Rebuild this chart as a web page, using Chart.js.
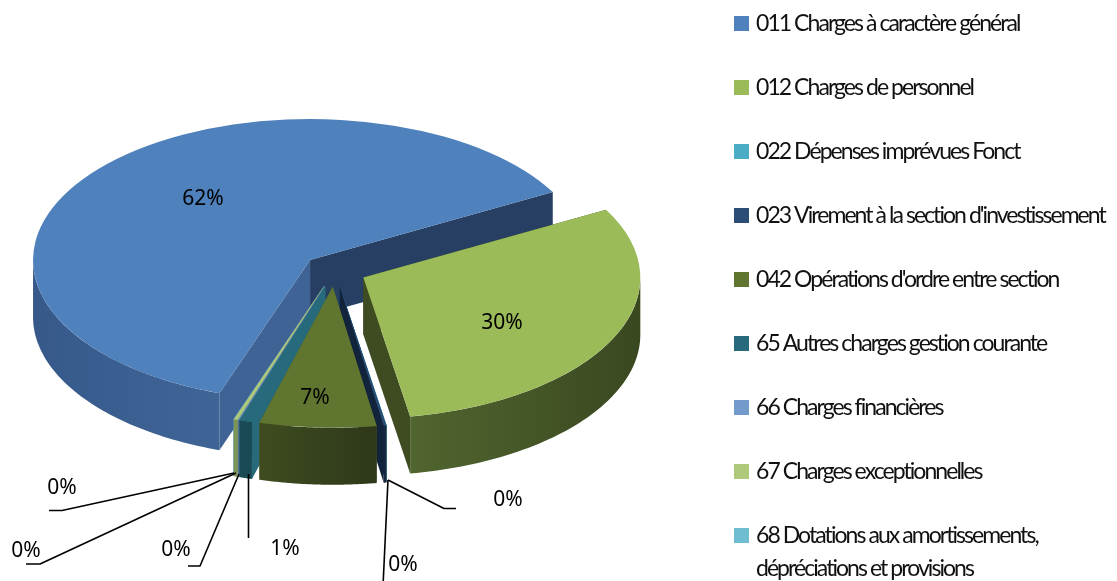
<!DOCTYPE html>
<html><head><meta charset="utf-8">
<style>html,body{margin:0;padding:0;background:#fff}canvas{display:block}</style>
<script src="https://cdn.jsdelivr.net/npm/chart.js@4"></script>
</head><body><canvas id="c" width="1117" height="581"></canvas>
<script>
const categories = ["011 Charges à caractère général","012 Charges de personnel","022 Dépenses imprévues Fonct","023 Virement à la section d'investissement","042 Opérations d'ordre entre section","65 Autres charges gestion courante","66 Charges financières","67 Charges exceptionnelles","68 Dotations aux amortissements, dépréciations et provisions"];
const values = [61.7, 30.3, 0.02, 0.15, 6.8, 0.75, 0.05, 0.22, 0.02];
const topColors = ["#4F81BD","#9BBB59","#4BACC6","#2C4D75","#5F7530","#276A7C","#729ACA","#AFC97A","#6FBDD1"];
const rimLeft = ["#36598A","#50652F","#2F7488","#16263D","#3F4C1F","#1B4A57","#4F6B8D","#7E9452","#4E8392"];
const rimRight = ["#3F6596","#3A4820","#2F7488","#16263D","#2E381A","#1B4A57","#4F6B8D","#7E9452","#4E8392"];
const wallStart = ["#3E6394","#3F4C22","#2F7488","#12233C","#4C5E26","#276A7C","#5B7DA5","#8CA560","#5A97A8"];
const wallEnd = ["#263F63","#3F4C22","#2F7488","#12233C","#4C5E26","#276A7C","#5B7DA5","#8CA560","#5A97A8"];
const labelAt = [[203,199],[502,323],[508,500],[403,565],[315,398],[285,549],[176,550],[26,551],[62,488]];
const leaders = [null,null,[[444,508.5],[456,508.5]],[[383,586]],null,[[248.5,538]],[[200,566],[188,566]],[[40,564],[26,564]],[[62,510.5],[49,510.5]]];
const leaderFrom = [null,null,[388,480],[388,480],null,[248.5,474],[239,474],[236,473],[234,473]];

const SQUASH = 0.509, DEPTH = 57, CX = 334.5, CY = 270.5, EXPLODE = 32, RADIUS = 277;
const LEGEND_X = 734, LEGEND_Y = 16, LEGEND_STEP = 64, BOX = 15, TEXT_X = 756, LINE = 33;
const legendLines = categories.map(c => c.includes(", ") ? [c.split(", ")[0] + ",", c.split(", ")[1]] : [c]);
const TAU = Math.PI * 2;

const pie3d = {
  id: 'pie3d',
  afterDatasetsUpdate(chart) {
    chart.getDatasetMeta(0).data.forEach(a => {
      const half = (a.startAngle + a.endAngle) / 2;
      a.x += Math.cos(half) * EXPLODE;
      a.y += Math.sin(half) * EXPLODE;
    });
  },
  beforeDatasetsDraw(chart) {
    const ctx = chart.ctx, arcs = chart.getDatasetMeta(0).data;
    const yc = (chart.chartArea.top + chart.chartArea.bottom) / 2;
    const order = arcs.map((a, i) => i).sort((p, q) => {
      const m = a => Math.sin((arcs[a].startAngle + arcs[a].endAngle) / 2);
      return m(p) - m(q);
    });
    ctx.save();
    for (const i of order) {
      const a = arcs[i], r = a.outerRadius;
      const px = t => a.x + r * Math.cos(t), py = t => yc + (a.y - yc + r * Math.sin(t)) * SQUASH;
      const ay = yc + (a.y - yc) * SQUASH;
      [[a.startAngle, wallStart[i]], [a.endAngle, wallEnd[i]]].forEach(([t, col]) => {
        ctx.fillStyle = col;
        ctx.beginPath();
        ctx.moveTo(a.x, ay); ctx.lineTo(px(t), py(t));
        ctx.lineTo(px(t), py(t) + DEPTH); ctx.lineTo(a.x, ay + DEPTH);
        ctx.closePath(); ctx.fill();
      });
      for (let k = -1; k <= 2; k++) {
        const s = Math.max(a.startAngle, k * TAU), f = Math.min(a.endAngle, k * TAU + Math.PI);
        if (f <= s) continue;
        const g = ctx.createLinearGradient(px(f), 0, px(s), 0);
        g.addColorStop(0, rimLeft[i]); g.addColorStop(1, rimRight[i]);
        ctx.fillStyle = g;
        ctx.beginPath();
        const steps = 60;
        for (let n = 0; n <= steps; n++) { const t = s + (f - s) * n / steps; ctx.lineTo(px(t), py(t)); }
        for (let n = steps; n >= 0; n--) { const t = s + (f - s) * n / steps; ctx.lineTo(px(t), py(t) + DEPTH); }
        ctx.closePath(); ctx.fill();
      }
    }
    ctx.restore();
    ctx.save();
    ctx.translate(0, yc); ctx.scale(1, SQUASH); ctx.translate(0, -yc);
  },
  afterDatasetsDraw(chart) {
    const ctx = chart.ctx, total = values.reduce((s, v) => s + v, 0);
    ctx.restore();
    ctx.save();
    ctx.strokeStyle = '#000'; ctx.lineWidth = 1.6; ctx.lineJoin = 'round';
    leaders.forEach((pts, i) => {
      if (!pts) return;
      ctx.beginPath(); ctx.moveTo(leaderFrom[i][0], leaderFrom[i][1]);
      pts.forEach(p => ctx.lineTo(p[0], p[1])); ctx.stroke();
    });
    ctx.fillStyle = '#000'; ctx.font = '21px "Noto Sans"'; ctx.textAlign = 'center'; ctx.textBaseline = 'middle';
    values.forEach((v, i) => ctx.fillText(Math.round(v / total * 100) + '%', labelAt[i][0], labelAt[i][1]));
    ctx.textAlign = 'left'; ctx.font = '23px Lato'; ctx.letterSpacing = '-1.95px';
    categories.forEach((c, i) => {
      const y = LEGEND_Y + i * LEGEND_STEP;
      ctx.fillStyle = topColors[i]; ctx.fillRect(LEGEND_X, y, BOX, BOX);
      ctx.fillStyle = '#111';
      legendLines[i].forEach((line, n) => ctx.fillText(line, TEXT_X, y + BOX / 2 + 0.5 + n * LINE));
    });
    ctx.restore();
  }
};

new Chart(document.getElementById('c'), {
  type: 'pie',
  data: { labels: categories, datasets: [{ data: values, backgroundColor: topColors, borderWidth: 0, clip: false, radius: RADIUS }] },
  options: {
    responsive: false, animation: false, rotation: 199.1,
    layout: { padding: { left: 0, top: 0, right: 1117 - 2 * CX, bottom: 581 - 2 * CY } },
    plugins: { legend: { display: false }, tooltip: { enabled: false }, title: { display: false } }
  },
  plugins: [pie3d]
});
</script></body></html>
